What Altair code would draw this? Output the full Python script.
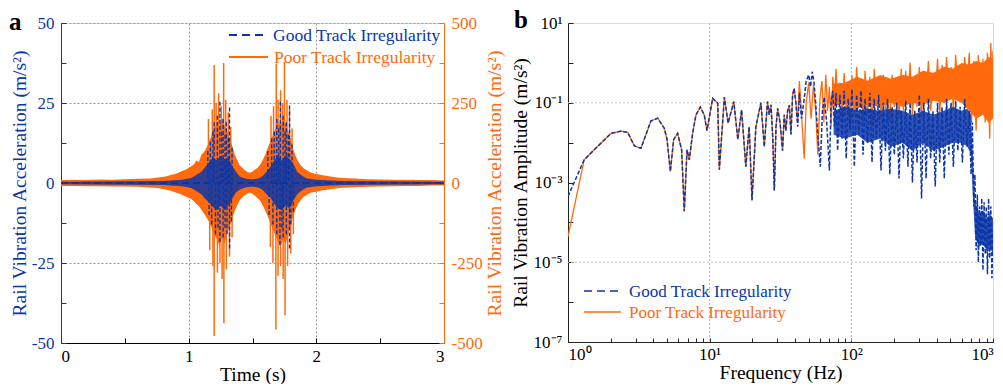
import math
import altair as alt
import pandas as pd

BLUE = "#0b36a8"
ORANGE = "#ff6a0d"
FONT = "Liberation Serif, Times New Roman, serif"

# ---------------- panel a : time history ----------------
time_ticks = [0, 1, 2, 3]
time_minor = [0, 0.5, 1, 1.5, 2, 2.5, 3]
left_ticks = [-50, -25, 0, 25, 50]
left_minor = [-50, -37.5, -25, -12.5, 0, 12.5, 25, 37.5, 50]
right_ticks = [-500, -250, 0, 250, 500]
right_minor = [-500, -375, -250, -125, 0, 125, 250, 375, 500]

poor_env_t = [0.00, 0.10, 0.20, 0.30, 0.40, 0.50, 0.60, 0.70, 0.76, 0.82, 0.86, 0.90, 0.94, 0.98,
              1.01, 1.04, 1.06, 1.08, 1.10, 1.12, 1.14, 1.16, 1.18, 1.20, 1.22, 1.24, 1.26, 1.28,
              1.30, 1.32, 1.34, 1.36, 1.38, 1.40, 1.42, 1.44, 1.46, 1.48, 1.50, 1.52, 1.54, 1.56,
              1.58, 1.60, 1.62, 1.64, 1.66, 1.68, 1.70, 1.72, 1.74, 1.76, 1.78, 1.80, 1.82, 1.84,
              1.86, 1.88, 1.90, 1.93, 1.96, 2.00, 2.05, 2.10, 2.15, 2.20, 2.30, 2.40, 2.50, 2.60,
              2.70, 2.80, 2.90, 3.00]
poor_env_up = [9, 10, 9, 11, 10, 12, 13, 14, 17, 20, 25, 29, 36, 42,
               50, 58, 70, 66, 88, 97, 110, 128, 150, 165, 190, 175, 205, 180,
               165, 140, 118, 90, 72, 55, 48, 40, 34, 32, 36, 42, 48, 57,
               72, 88, 110, 130, 150, 170, 195, 178, 200, 185, 160, 135, 105, 82,
               66, 55, 46, 38, 32, 28, 24, 21, 18, 16, 14, 12, 11, 10,
               10, 9, 9, 8]
poor_env_lo = [-9, -9, -10, -10, -11, -11, -12, -14, -16, -20, -24, -30, -35, -43,
               -48, -56, -66, -72, -84, -95, -108, -122, -140, -160, -175, -195, -170, -190,
               -160, -135, -112, -88, -70, -54, -45, -38, -33, -30, -34, -40, -48, -55,
               -70, -86, -105, -125, -145, -165, -185, -200, -175, -190, -160, -130, -102, -80,
               -64, -52, -44, -36, -30, -27, -23, -20, -17, -15, -13, -12, -11, -10,
               -9, -9, -8, -8]

poor_spike_t = [1.155, 1.185, 1.200, 1.215, 1.235, 1.255, 1.274, 1.290, 1.310, 1.330,
                1.645, 1.665, 1.686, 1.700, 1.720, 1.735, 1.750, 1.770, 1.790, 1.810,
                1.165, 1.190, 1.200, 1.225, 1.245, 1.262, 1.276, 1.295, 1.320, 1.340,
                1.640, 1.660, 1.683, 1.700, 1.720, 1.740, 1.755, 1.775, 1.800, 1.820]
poor_spike_v = [200, 230, 369, 250, 280, 240, 375, 260, 220, 175,
                210, 240, 373, 260, 290, 250, 378, 260, 230, 170,
                -210, -260, -478, -280, -250, -300, -438, -270, -230, -170,
                -200, -250, -458, -290, -260, -300, -413, -260, -220, -160]

good_env_t = [0.0, 0.8, 0.95, 1.02, 1.06, 1.10, 1.13, 1.16, 1.19, 1.22, 1.25, 1.28, 1.31, 1.34,
              1.37, 1.40, 1.45, 1.50, 1.55, 1.58, 1.61, 1.64, 1.67, 1.70, 1.73, 1.76, 1.79, 1.82,
              1.85, 1.88, 1.92, 2.0, 2.2, 3.0]
good_env_up = [0.4, 0.6, 1.0, 1.6, 2.5, 3.5, 5, 6.5, 8, 7, 8.5, 7.5, 8, 5.5,
               3.5, 2, 1.3, 1.1, 1.5, 2.2, 3.5, 5, 7, 8.5, 7, 8.5, 7.5, 6,
               3.5, 2.5, 1.5, 1.0, 0.6, 0.4]
good_env_lo = [-0.4, -0.6, -1.0, -1.6, -2.5, -3.5, -5, -6, -7.5, -8.5, -7, -8.5, -7, -5,
               -3, -2, -1.3, -1.1, -1.5, -2.2, -3.5, -4.5, -6.5, -8, -8.5, -7, -8, -5.5,
               -3.5, -2.5, -1.5, -1.0, -0.6, -0.4]

good_spike_t = [1.150, 1.170, 1.190, 1.200, 1.225, 1.245, 1.260, 1.270, 1.285, 1.295, 1.310, 1.320,
                1.340, 1.620, 1.650, 1.670, 1.690, 1.705, 1.718, 1.740, 1.755, 1.765, 1.780, 1.790,
                1.810,
                1.160, 1.180, 1.210, 1.230, 1.245, 1.270, 1.285, 1.300, 1.320, 1.335, 1.630, 1.660,
                1.690, 1.715, 1.730, 1.740, 1.765, 1.790, 1.800, 1.820]
good_spike_v = [10, 13, 16, 19, 21, 25.4, 16, 20, 15, 19, 14, 23.6,
                11, 10, 14, 16, 20, 17, 25.4, 21, 16, 19, 15, 24.2,
                12,
                -10, -13, -16, -14, -18.4, -17, -14, -16, -20.5, -12, -10, -13,
                -16, -19.4, -14, -17, -16, -20.5, -13, -9]

good_base_t = [0.0, 3.0]
good_base_v = [0.0, 0.0]

legend_labels = ["Good Track Irregularity", "Poor Track Irregularity"]

# ---------------- panel b : spectrum ----------------
spec_common_f = [1.30, 1.53, 2.01, 2.37, 2.64, 2.94, 3.27, 3.85, 4.30, 4.78, 5.00, 5.28, 5.57, 5.94,
                 6.34, 6.62, 6.92, 7.18, 7.58, 8.00, 8.59, 9.16, 9.57, 10.5, 11.4, 11.7, 12.7, 13.5,
                 14.8, 15.8, 16.8, 18.0, 19.0, 19.9, 21.2, 23.0, 24.3, 25.6, 26.3, 27.1, 27.9, 28.6,
                 29.4, 30.2, 31.4, 32.7, 33.6, 34.5, 35.5, 36.5, 37.5, 38.5, 39.5, 40.6]
spec_common_a = [3.7e-3, 6.6e-3, 1.7e-2, 1.95e-2, 1.8e-2, 8.3e-3, 7.2e-3, 3.5e-2, 4.1e-2, 2.3e-2,
                 1.2e-2, 1.9e-3, 1.2e-2, 1.7e-2, 6.6e-3, 1.9e-4, 6.6e-3, 3.7e-3, 1.7e-2, 4.9e-2,
                 7.8e-2, 4.9e-2, 2.0e-2, 1.29e-1, 9.8e-2, 2.1e-3, 1.38e-1, 3.1e-2, 1.07e-1, 1.2e-2,
                 6.6e-2, 2.5e-3, 2.5e-2, 3.6e-4, 2.5e-2, 1.0e-1, 7.9e-3, 1.07e-1, 5.0e-2, 8.9e-2,
                 1.26e-2, 6.3e-4, 2.5e-2, 7.2e-2, 3.2e-2, 6.3e-3, 5.0e-2, 2.0e-2, 6.3e-2, 8.7e-2,
                 1.6e-2, 1.58e-1, 2.3e-1, 1.0e-1]

good_start_f = [1.0]
good_start_a = [4.5e-4]
poor_start_f = [1.0]
poor_start_a = [4.4e-5]

poor_tail_f = [41.8, 43, 44.5, 46.5, 48, 50, 52, 54, 56, 58, 60, 62, 64, 66, 68, 70, 72, 74, 76, 78,
               80, 83, 86, 89, 92, 95, 98, 101, 105, 109, 113, 117, 121, 125, 130, 135, 140, 145,
               150, 156, 162, 168, 174, 180, 187, 194, 201, 209, 217, 225, 233, 242, 251, 260, 270,
               280, 291, 302, 313, 325, 337, 350, 363, 377, 391, 406, 421, 437, 453, 470, 488, 506,
               525, 545, 565, 586, 608, 631, 655, 680, 705, 732, 760, 788, 818, 849, 881, 914, 948,
               965, 983, 1000]
poor_tail_a = [3.2e-2, 3.5e-1, 5.0e-2, 4.0e-3, 1.0e-1, 3.2e-1, 4.0e-2, 2.8e-1, 6.3e-2, 5.0e-3,
               1.26e-1, 3.5e-1, 3.2e-2, 5.0e-1, 6.3e-2, 2.5e-1, 2.5e-2, 4.5e-1, 1.26e-1, 7.1e-1,
               1.0e-1, 3.2e-1, 4.0e-2, 5.6e-1, 6.3e-2, 3.5e-1, 2.5e-2, 5.0e-1, 5.0e-2, 7.9e-1,
               7.9e-2, 4.0e-1, 3.2e-2, 6.3e-1, 5.0e-2, 4.5e-1, 2.5e-2, 7.1e-1, 1.0e-1, 3.5e-1,
               4.0e-2, 5.0e-1, 6.3e-2, 2.8e-1, 3.2e-2, 5.0e-1, 7.9e-2, 3.2e-1, 4.0e-2, 7.1e-1,
               6.3e-2, 6.3e-1, 1.0e-1, 1.0, 5.0e-2, 4.0e-1, 7.9e-2, 7.9e-1, 4.0e-2, 6.3e-1,
               1.26e-1, 1.12, 6.3e-2, 5.0e-1, 1.26e-1, 1.26, 5.0e-2, 8.9e-1, 1.0e-1, 1.41,
               1.58e-1, 7.9e-1, 6.3e-2, 1.58, 2.0e-1, 8.9e-1, 1.0e-1, 1.41, 2.5e-1, 1.78,
               3.2e-2, 1.12, 2.0e-2, 1.58, 6.3e-2, 1.26, 3.2e-2, 1.78, 1.26e-2, 3.16,
               3.2e-1, 2.0]

good_tail_f = [41.8, 43, 44.5, 46.5, 48, 50, 51.5, 53, 54.5, 56, 58, 60.4, 62.5, 64.5, 67, 70, 72, 74,
               76, 78, 80, 83, 86, 89, 92, 95, 98, 101, 105, 109, 113, 117, 121, 125, 130, 135, 140,
               145, 150, 156, 162, 168, 174, 180, 187, 194, 201, 209, 217, 225, 233, 242, 251, 260,
               270, 280, 291, 302, 313, 325, 337, 350, 363, 377, 391, 406, 421, 437, 453, 470, 488,
               506, 525, 545, 565, 586, 608, 631, 655, 680, 700, 715, 732, 745, 760, 775, 788, 803,
               818, 833, 849, 865, 881, 897, 914, 931, 948, 965, 983, 1000]
good_tail_a = [2.5e-2, 1.78e-1, 4.0e-2, 1.26e-1, 3.5e-1, 5.0e-1, 2.5e-1, 6.0e-1, 3.2e-1, 1.0e-1,
               1.6e-2, 2.5e-3, 6.3e-2, 1.4e-1, 3.2e-2, 2.0e-3, 1.0e-1, 2.0e-1, 2.5e-2, 1.78e-1,
               6.3e-3, 1.58e-1, 1.26e-2, 2.0e-1, 4.0e-3, 1.26e-1, 2.0e-2, 2.2e-1, 2.5e-3, 1.58e-1,
               1.6e-2, 2.0e-1, 5.0e-3, 1.26e-1, 1.0e-2, 1.78e-1, 3.2e-3, 1.26e-1, 1.26e-2, 1.58e-1,
               2.0e-3, 1.0e-1, 6.3e-3, 1.26e-1, 1.6e-3, 7.9e-2, 5.0e-3, 1.0e-1, 1.26e-3, 6.3e-2,
               4.0e-3, 1.12e-1, 2.5e-3, 1.0e-1, 1.0e-3, 6.3e-2, 3.2e-3, 1.58e-1, 4.0e-4, 1.0e-1,
               1.26e-3, 1.26e-1, 4.0e-3, 6.3e-2, 7.9e-4, 1.0e-1, 3.2e-3, 7.9e-2, 1.26e-3, 1.26e-1,
               5.0e-3, 1.0e-1, 2.5e-3, 1.12e-1, 6.3e-3, 7.9e-2, 3.2e-3, 1.26e-1, 7.9e-3, 6.3e-2,
               1.6e-3, 3.2e-2, 2.5e-4, 1.6e-3, 2.0e-5, 5.0e-4, 1.0e-5, 2.5e-4, 2.5e-5, 4.0e-4,
               6.3e-6, 3.2e-4, 1.6e-5, 2.5e-4, 5.0e-6, 4.0e-4, 1.26e-5, 2.5e-4, 4.0e-6, 6.3e-5]

poor_band_f = [70, 75, 90, 110, 130, 160, 190, 230, 270, 320, 380, 450, 520, 600, 680, 760, 850, 930, 1000]
poor_band_hi = [0.1, 0.3, 0.316, 0.447, 0.355, 0.5, 0.398, 0.5, 0.447, 0.631, 0.562, 0.794, 0.708,
                1.0, 0.891, 1.12, 1.0, 1.41, 1.26]
poor_band_lo = [0.1, 0.0794, 0.1, 0.0708, 0.0891, 0.0794, 0.1, 0.0794, 0.1, 0.0891, 0.112, 0.1, 0.126,
                0.1, 0.063, 0.0398, 0.05, 0.0316, 0.0398]

good_band_f = [75, 90, 110, 130, 160, 190, 230, 270, 320, 380, 450, 520, 600, 660, 700, 720, 745, 770,
               800, 850, 900, 950, 1000]
good_band_hi = [0.063, 0.0794, 0.063, 0.0708, 0.063, 0.0708, 0.063, 0.05, 0.063, 0.05, 0.063, 0.0794,
                0.063, 0.0708, 0.05, 0.005, 3.16e-4, 2.5e-4, 1.58e-4, 2.0e-4, 1.26e-4, 1.58e-4, 1.26e-4]
good_band_lo = [0.0158, 0.0126, 0.0158, 0.01, 0.0126, 0.0079, 0.01, 0.0063, 0.01, 0.0063, 0.0079, 0.01,
                0.01, 0.0079, 0.005, 5e-4, 5e-5, 3.16e-5, 2.5e-5, 3.16e-5, 2.0e-5, 2.5e-5, 1.58e-5]

freq_ticks = [1, 10, 100, 1000]
freq_tick_text = ["10⁰", "10¹", "10²", "10³"]
freq_minor = [1, 2, 3, 4, 5, 6, 7, 8, 9, 10, 20, 30, 40, 50, 60, 70, 80, 90,
              100, 200, 300, 400, 500, 600, 700, 800, 900, 1000]
amp_ticks = [10, 0.1, 0.001, 1e-5, 1e-7]
amp_tick_text = ["10¹", "10⁻¹", "10⁻³", "10⁻⁵", "10⁻⁷"]
amp_minor = [10, 1, 0.1, 0.01, 0.001, 1e-4, 1e-5, 1e-6, 1e-7]
grid_f = [10, 100]
grid_a = [0.1, 1e-5]

# ---------------- tables ----------------
df_poor_env = pd.DataFrame({"t": poor_env_t, "up": poor_env_up, "lo": poor_env_lo})
df_poor_spk = pd.DataFrame({"t": poor_spike_t, "v": poor_spike_v, "zero": [0] * len(poor_spike_t)})
df_good_env = pd.DataFrame({"t": good_env_t, "up": good_env_up, "lo": good_env_lo})
df_good_spk = pd.DataFrame({"t": good_spike_t, "v": good_spike_v, "zero": [0] * len(good_spike_t)})
df_good_base = pd.DataFrame({"t": good_base_t, "v": good_base_v})

df_good_spec = pd.DataFrame({"f": good_start_f + spec_common_f + good_tail_f,
                             "a": good_start_a + spec_common_a + good_tail_a})
df_poor_spec = pd.DataFrame({"f": poor_start_f + spec_common_f + poor_tail_f,
                             "a": poor_start_a + spec_common_a + poor_tail_a})
df_poor_band = pd.DataFrame({"f": poor_band_f, "hi": poor_band_hi, "lo": poor_band_lo})
df_good_band = pd.DataFrame({"f": good_band_f, "hi": good_band_hi, "lo": good_band_lo})
df_grid_f = pd.DataFrame({"f": grid_f})
df_grid_a = pd.DataFrame({"a": grid_a})


def sup_expr(vals, texts):
    parts = [f"round(log(datum.value)/LN10) == {round(math.log10(v))} ? '{s}'" for v, s in zip(vals, texts)]
    return " : ".join(parts) + " : ''"


one = alt.Data(values=[{}])
lab = dict(labelFont=FONT, labelFontSize=17, titleFont=FONT, titleFontSize=19.5, titleFontWeight="normal")

# ---------------- panel a ----------------
xA = alt.Scale(domain=[0, 3], nice=False, zero=False)
yL = alt.Scale(domain=[-50, 50], nice=False)
yR = alt.Scale(domain=[-500, 500], nice=False)

x_axis_a = alt.Axis(orient="bottom", values=time_ticks, format="d", grid=True, gridDash=[2, 2],
                    gridColor="#999999", ticks=False, domainColor="black", labelColor="black",
                    labelPadding=5, title="Time (s)", titleColor="black", titlePadding=1, **lab)
x_tick_a = alt.Axis(orient="bottom", values=time_minor, labels=False, domain=False, grid=False,
                    ticks=True, tickSize=5, tickColor="black", offset=-5, title="")
yL_axis = alt.Axis(orient="left", values=left_ticks, labelExpr="toString(datum.value)", grid=True,
                   gridDash=[2, 2], gridColor="#999999", ticks=False, domainColor=BLUE, labelColor=BLUE,
                   labelPadding=7, title="Rail Vibration Acceleration (m/s²)", titleColor=BLUE,
                   titlePadding=2, **lab)
yL_tick = alt.Axis(orient="left", values=left_minor, labels=False, domain=False, grid=False,
                   ticks=True, tickSize=5, tickColor=BLUE, offset=-5, title="")
yR_axis = alt.Axis(orient="right", values=right_ticks, labelExpr="toString(datum.value)", grid=False,
                   ticks=False, domainColor=ORANGE, labelColor=ORANGE, labelPadding=7,
                   title="Rail Vibration Acceleration (m/s²)", titleColor=ORANGE, titleAngle=270,
                   titleBaseline="top", titlePadding=3, **lab)
yR_tick = alt.Axis(orient="right", values=right_minor, labels=False, domain=False, grid=False,
                   ticks=True, tickSize=5, tickColor=ORANGE, offset=-5, title="")

orange_group = alt.layer(
    alt.Chart(df_poor_env).mark_area(color=ORANGE, opacity=1).encode(
        x=alt.X("t:Q", scale=xA, axis=None),
        y=alt.Y("up:Q", scale=yR, axis=yR_axis),
        y2="lo:Q"),
    alt.Chart(df_poor_spk).mark_rule(color=ORANGE, strokeWidth=1.5).encode(
        x=alt.X("t:Q", scale=xA, axis=None),
        y=alt.Y("v:Q", scale=yR, axis=yR_tick),
        y2="zero:Q"),
).resolve_axis(y="independent")

blue_group = alt.layer(
    alt.Chart(df_good_env).mark_area(color=BLUE, opacity=0.85).encode(
        x=alt.X("t:Q", scale=xA, axis=x_axis_a),
        y=alt.Y("up:Q", scale=yL, axis=yL_axis),
        y2="lo:Q"),
    alt.Chart(df_good_spk).mark_rule(color=BLUE, strokeWidth=1.4, strokeDash=[4, 2]).encode(
        x=alt.X("t:Q", scale=xA, axis=None),
        y=alt.Y("v:Q", scale=yL, axis=None),
        y2="zero:Q"),
    alt.Chart(df_good_base).mark_line(color=BLUE, strokeWidth=2, strokeDash=[7, 4]).encode(
        x=alt.X("t:Q", scale=xA, axis=x_tick_a),
        y=alt.Y("v:Q", scale=yL, axis=yL_tick)),
).resolve_axis(x="independent", y="independent")

legend_a = [
    alt.Chart(one).mark_rule(color=BLUE, strokeWidth=2, strokeDash=[8, 5]).encode(
        x=alt.value(168), x2=alt.value(205), y=alt.value(12)),
    alt.Chart(one).mark_text(text=legend_labels[0], align="left", baseline="middle", font=FONT,
                             fontSize=17.5, color=BLUE).encode(x=alt.value(212), y=alt.value(13)),
    alt.Chart(one).mark_rule(color=ORANGE, strokeWidth=2).encode(
        x=alt.value(168), x2=alt.value(207), y=alt.value(34)),
    alt.Chart(one).mark_text(text=legend_labels[1], align="left", baseline="middle", font=FONT,
                             fontSize=17.5, color=ORANGE).encode(x=alt.value(213), y=alt.value(35)),
    alt.Chart(one).mark_text(text="a", align="left", baseline="alphabetic", font=FONT, fontSize=25,
                             fontWeight="bold", color="black").encode(x=alt.value(-52), y=alt.value(7)),
]

panel_a = alt.layer(orange_group, blue_group, *legend_a).resolve_scale(y="independent").properties(
    width=383, height=320)

# ---------------- panel b ----------------
xB = alt.Scale(type="log", domain=[1, 1000], nice=False)
yB = alt.Scale(type="log", domain=[1e-7, 10], nice=False)

x_axis_b = alt.Axis(orient="bottom", values=freq_ticks, labelExpr=sup_expr(freq_ticks, freq_tick_text),
                    grid=False, ticks=False, domainColor="#222222", labelColor="black", labelPadding=4,
                    title="Frequency (Hz)", titleColor="black", titlePadding=1, **lab)
y_axis_b = alt.Axis(orient="left", values=amp_ticks, labelExpr=sup_expr(amp_ticks, amp_tick_text),
                    grid=False, ticks=False, domainColor="#222222", labelColor="black", labelPadding=6,
                    title="Rail Vibration Amplitude (m/s²)", titleColor="black", titlePadding=3, **lab)
x_tick_b = alt.Axis(orient="bottom", values=freq_minor, labels=False, domain=False, grid=False,
                    ticks=True, tickSize=4, tickColor="#222222", offset=-4, title="")
y_tick_b = alt.Axis(orient="left", values=amp_minor, labels=False, domain=False, grid=False,
                    ticks=True, tickSize=5, tickColor="#222222", offset=-5, title="")

panel_b = alt.layer(
    alt.Chart(df_grid_f).mark_rule(color="#b5b5b5", strokeDash=[2, 2], strokeWidth=1).encode(
        x=alt.X("f:Q", scale=xB, axis=None)),
    alt.Chart(df_grid_a).mark_rule(color="#c5c5c5", strokeDash=[2, 2], strokeWidth=1).encode(
        y=alt.Y("a:Q", scale=yB, axis=None)),
    alt.Chart(df_poor_band).mark_area(color=ORANGE, opacity=1).encode(
        x=alt.X("f:Q", scale=xB, axis=None),
        y=alt.Y("hi:Q", scale=yB, axis=None),
        y2="lo:Q"),
    alt.Chart(df_poor_spec).mark_line(color=ORANGE, strokeWidth=1.3, clip=True).encode(
        x=alt.X("f:Q", scale=xB, axis=x_tick_b),
        y=alt.Y("a:Q", scale=yB, axis=y_tick_b)),
    alt.Chart(df_good_band).mark_area(color=BLUE, opacity=0.85).encode(
        x=alt.X("f:Q", scale=xB, axis=None),
        y=alt.Y("hi:Q", scale=yB, axis=None),
        y2="lo:Q"),
    alt.Chart(df_good_spec).mark_line(color=BLUE, strokeWidth=1.5, strokeDash=[4, 2], clip=True).encode(
        x=alt.X("f:Q", scale=xB, axis=x_axis_b),
        y=alt.Y("a:Q", scale=yB, axis=y_axis_b)),
    alt.Chart(one).mark_rule(color=BLUE, strokeWidth=1.5, strokeDash=[8, 5]).encode(
        x=alt.value(16), x2=alt.value(53), y=alt.value(268)),
    alt.Chart(one).mark_text(text=legend_labels[0], align="left", baseline="middle", font=FONT,
                             fontSize=17, color=BLUE).encode(x=alt.value(61), y=alt.value(269)),
    alt.Chart(one).mark_rule(color=ORANGE, strokeWidth=1.5).encode(
        x=alt.value(16), x2=alt.value(53), y=alt.value(289)),
    alt.Chart(one).mark_text(text=legend_labels[1], align="left", baseline="middle", font=FONT,
                             fontSize=17, color=ORANGE).encode(x=alt.value(61), y=alt.value(290)),
    alt.Chart(one).mark_text(text="b", align="left", baseline="alphabetic", font=FONT, fontSize=25,
                             fontWeight="bold", color="black").encode(x=alt.value(-54), y=alt.value(5)),
).resolve_axis(x="independent", y="independent").properties(width=425, height=319)

chart = alt.hconcat(panel_a, panel_b, spacing=124, bounds="flush").properties(
    padding={"left": 8, "top": 7, "right": 0, "bottom": 0}
).configure_view(stroke="#999999", strokeWidth=1).configure(background="white")

chart.save("out.html", embed_options={"renderer": "svg", "actions": False})
